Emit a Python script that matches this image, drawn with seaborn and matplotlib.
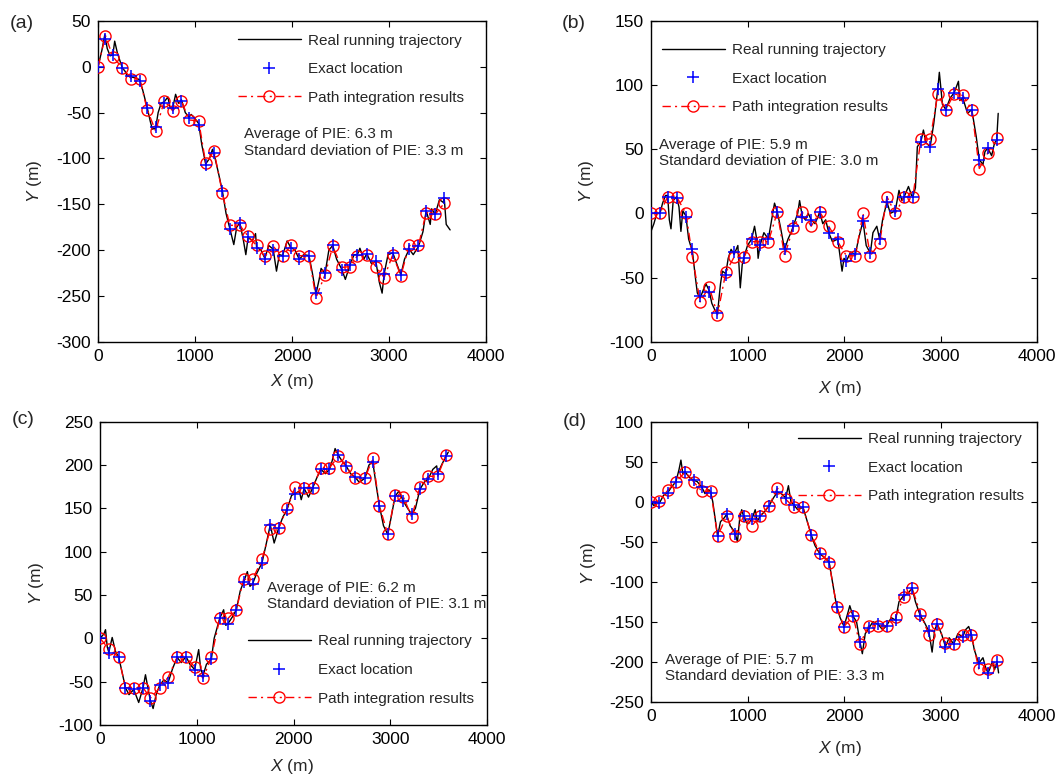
import matplotlib
matplotlib.use("Agg")
import matplotlib.pyplot as plt
import seaborn as sns
import numpy as np
import pandas as pd

sns.set_style("ticks")
plt.rcParams['font.family'] = ['Liberation Sans', 'DejaVu Sans']
plt.rcParams['mathtext.fontset'] = 'custom'
plt.rcParams['mathtext.it'] = 'Liberation Sans:italic'
plt.rcParams['mathtext.rm'] = 'Liberation Sans'
plt.rcParams['axes.unicode_minus'] = False

# ---------------- Panel (a) ----------------
x_a = [0, 77, 153, 250, 343, 429, 508, 594, 684, 770, 860, 938, 1038, 1110, 1196, 1283, 1358, 1462, 1548, 1635,
       1720, 1806, 1903, 1986, 2075, 2175, 2247, 2340, 2420, 2513, 2598, 2674, 2771, 2864, 2950, 3039, 3122, 3208,
       3304, 3383, 3476, 3569]
pir_a = [0, 34, 11, -1, -13, -13, -47, -70, -37, -48, -37, -58, -59, -105, -92, -138, -173, -173, -185, -195,
         -207, -196, -207, -195, -206, -207, -252, -227, -196, -219, -218, -206, -205, -218, -230, -205, -228, -195,
         -195, -159, -161, -149]
exact_a = [0, 30, 13, -1, -10, -15, -45, -66, -39, -45, -37, -56, -63, -107, -94, -136, -177, -171, -186, -198,
           -210, -200, -206, -198, -210, -206, -247, -225, -195, -222, -216, -205, -204, -212, -226, -203, -227, -199,
           -196, -157, -161, -143]
traj_a_x = [0, 40, 70, 95, 125, 153, 172, 200, 250, 280, 300, 343, 380, 429, 460, 508, 540, 560, 594, 620, 650, 684,
            720, 745, 770, 800, 830, 860, 900, 938, 960, 990, 1038, 1070, 1110, 1150, 1180, 1196, 1240, 1283, 1320,
            1358, 1400, 1430, 1462, 1500, 1524, 1548, 1590, 1624, 1635, 1680, 1720, 1760, 1806, 1840, 1870, 1903,
            1950, 1986, 2030, 2075, 2120, 2175, 2210, 2247, 2280, 2300, 2340, 2380, 2420, 2460, 2513, 2550, 2598,
            2640, 2674, 2700, 2740, 2771, 2820, 2864, 2900, 2929, 2950, 2990, 3039, 3080, 3122, 3160, 3208, 3250,
            3304, 3350, 3383, 3425, 3440, 3476, 3520, 3560, 3569, 3590, 3630]
traj_a_y = [0, 18, 35, 20, 12, 13, 28, 15, -1, -5, -10, -11, -12, -14, -25, -45, -60, -68, -67, -50, -40, -38,
            -33, -45, -45, -30, -40, -36, -50, -55, -52, -55, -62, -85, -106, -100, -90, -95, -115, -136, -160,
            -176, -194, -175, -170, -190, -205, -186, -190, -182, -197, -200, -209, -195, -199, -223, -205, -206,
            -190, -197, -200, -210, -205, -206, -225, -248, -232, -220, -226, -200, -195, -210, -221, -232, -216,
            -205, -205, -198, -210, -204, -215, -212, -235, -247, -226, -205, -203, -215, -227, -210, -199, -205,
            -196, -180, -157, -172, -155, -161, -145, -148, -143, -172, -178]

# ---------------- Panel (b) ----------------
x_b = [0, 93, 172, 265, 362, 430, 509, 602, 689, 775, 861, 964, 1043, 1129, 1216, 1309, 1384, 1474, 1567, 1660,
       1749, 1842, 1935, 2025, 2118, 2197, 2273, 2369, 2445, 2531, 2624, 2714, 2797, 2893, 2972, 3055, 3141, 3231,
       3324, 3402, 3489, 3582]
pir_b = [0, 0, 13, 13, 0, -34, -69, -57, -79, -46, -34, -34, -22, -22, -22, 1, -33, -11, 1, -10, 1, -10, -22,
         -33, -33, 0, -33, -23, 13, 0, 13, 13, 58, 58, 93, 81, 93, 92, 81, 35, 47, 59]
exact_b = [0, 0, 13, 12, -3, -28, -64, -61, -78, -48, -30, -35, -20, -25, -20, 1, -28, -10, -3, -5, 1, -15, -20,
           -37, -32, -6, -31, -20, 9, 2, 13, 13, 56, 52, 97, 81, 94, 90, 81, 42, 51, 57]
traj_b_x = [0, 30, 60, 93, 120, 150, 172, 190, 207, 230, 265, 290, 310, 330, 362, 390, 410, 430, 460, 480, 509,
            540, 570, 602, 630, 660, 689, 720, 740, 775, 800, 830, 861, 900, 925, 945, 964, 1000, 1043, 1073, 1100,
            1110, 1129, 1170, 1216, 1250, 1280, 1309, 1340, 1384, 1420, 1450, 1474, 1520, 1540, 1567, 1600, 1630,
            1660, 1700, 1749, 1780, 1810, 1842, 1880, 1935, 1980, 2000, 2025, 2070, 2118, 2150, 2197, 2230, 2273,
            2300, 2340, 2369, 2400, 2445, 2480, 2531, 2570, 2600, 2624, 2668, 2700, 2714, 2740, 2760, 2797, 2823,
            2850, 2893, 2930, 2972, 2988, 3020, 3055, 3100, 3141, 3186, 3200, 3231, 3280, 3324, 3370, 3402, 3440,
            3460, 3489, 3530, 3560, 3582, 3598]
traj_b_y = [-14, -8, 0, 0, 8, 14, 14, -5, -12, 10, 13, 5, -14, 2, -2, -20, -25, -30, -50, -62, -66, -60, -55,
            -60, -70, -75, -78, -55, -45, -47, -35, -28, -32, -25, -58, -40, -34, -25, -20, -10, -22, -35, -25, -15,
            -20, -5, 8, 1, -10, -28, -20, -15, -10, 0, 10, -2, -5, 0, -5, -8, 1, -8, -5, -15, -22, -20, -45, -35,
            -37, -30, -32, -20, -6, -25, -31, -15, -10, -20, -5, 9, 0, 2, 18, 10, 13, 21, 14, 13, 20, 52, 56, 65,
            55, 52, 70, 97, 110, 85, 81, 90, 94, 103, 88, 90, 78, 81, 60, 42, 38, 48, 51, 45, 55, 57, 78]

# ---------------- Panel (c) ----------------
x_c = [0, 91, 194, 263, 349, 445, 521, 617, 704, 797, 889, 978, 1065, 1151, 1237, 1323, 1409, 1484, 1577, 1674,
       1760, 1846, 1932, 2018, 2110, 2200, 2283, 2372, 2465, 2544, 2637, 2740, 2819, 2888, 2974, 3050, 3136, 3222,
       3307, 3393, 3490, 3576]
pir_c = [0, -12, -22, -57, -57, -57, -69, -57, -45, -22, -22, -33, -46, -22, 23, 23, 33, 68, 68, 91, 126, 127,
         150, 175, 174, 174, 197, 197, 210, 198, 185, 185, 208, 153, 120, 165, 163, 140, 175, 187, 187, 212]
exact_c = [0, -17, -22, -57, -59, -57, -72, -54, -51, -22, -21, -36, -43, -24, 23, 17, 33, 65, 63, 87, 131, 127,
           148, 167, 173, 174, 195, 195, 211, 199, 186, 185, 204, 153, 120, 164, 158, 143, 172, 184, 190, 210]
traj_c_x = [0, 40, 57, 75, 91, 126, 160, 194, 230, 263, 300, 349, 400, 445, 470, 500, 521, 549, 580, 617, 660,
            704, 750, 797, 840, 889, 930, 978, 1020, 1040, 1065, 1100, 1151, 1180, 1237, 1278, 1300, 1323, 1370,
            1409, 1450, 1484, 1523, 1550, 1577, 1620, 1674, 1720, 1760, 1800, 1846, 1890, 1932, 1980, 2018, 2060,
            2080, 2110, 2155, 2200, 2240, 2283, 2330, 2372, 2400, 2430, 2465, 2500, 2544, 2590, 2637, 2680, 2740,
            2780, 2819, 2850, 2888, 2930, 2974, 3010, 3050, 3090, 3136, 3180, 3222, 3260, 3307, 3350, 3393, 3440,
            3480, 3490, 3530, 3576, 3600]
traj_c_y = [0, 5, 10, -10, -16, 1, -15, -22, -40, -57, -65, -59, -74, -57, -42, -60, -72, -81, -65, -54, -48,
            -51, -35, -22, -28, -21, -30, -36, -13, -35, -43, -30, -24, 0, 23, 33, 15, 17, 25, 33, 55, 65, 77, 60,
            63, 75, 87, 110, 131, 110, 127, 140, 148, 165, 167, 170, 160, 173, 163, 174, 185, 195, 190, 195, 205,
            219, 211, 205, 199, 190, 186, 180, 185, 200, 204, 180, 153, 130, 120, 140, 164, 170, 158, 150, 143,
            150, 172, 180, 184, 195, 199, 190, 200, 210, 215]

# ---------------- Panel (d) ----------------
x_d = [0, 86, 172, 258, 355, 441, 527, 620, 690, 783, 872, 959, 1045, 1131, 1224, 1310, 1396, 1482, 1575, 1662,
       1749, 1845, 1924, 2000, 2093, 2165, 2258, 2351, 2441, 2534, 2620, 2706, 2792, 2879, 2966, 3051, 3137, 3230,
       3320, 3396, 3493, 3585]
pir_d = [0, 1, 14, 25, 37, 25, 13, 13, -43, -18, -43, -18, -30, -18, -5, 17, 3, -7, -7, -42, -64, -76, -131,
         -156, -143, -178, -155, -155, -155, -144, -119, -108, -140, -166, -153, -177, -178, -166, -166, -209,
         -209, -198]
exact_d = [0, -2, 11, 25, 37, 27, 18, 11, -43, -16, -40, -18, -22, -18, -5, 12, 5, -4, -7, -42, -65, -75, -131,
           -156, -143, -175, -158, -153, -155, -148, -117, -108, -143, -162, -153, -181, -178, -169, -166, -202,
           -214, -200]
traj_d_x = [0, 30, 60, 86, 130, 172, 210, 258, 290, 310, 330, 355, 400, 441, 480, 527, 560, 600, 620, 640, 690,
            720, 760, 783, 820, 850, 872, 896, 920, 940, 959, 1000, 1045, 1080, 1100, 1131, 1180, 1224, 1270, 1310,
            1350, 1396, 1424, 1450, 1482, 1520, 1575, 1620, 1662, 1700, 1749, 1800, 1845, 1880, 1924, 1960, 2000,
            2040, 2060, 2093, 2130, 2165, 2190, 2220, 2258, 2300, 2351, 2400, 2441, 2490, 2534, 2570, 2620, 2660,
            2706, 2740, 2792, 2830, 2879, 2913, 2940, 2966, 3010, 3051, 3090, 3137, 3180, 3230, 3260, 3292, 3320,
            3350, 3396, 3440, 3470, 3493, 3540, 3560, 3585, 3602]
traj_d_y = [0, -5, 0, -2, 8, 11, 18, 25, 40, 52, 35, 37, 30, 27, 25, 18, 10, 15, 11, 0, -43, -25, -20, -16, -30,
            -35, -40, -50, -20, -10, -18, -28, -22, -10, -25, -18, -12, -5, 5, 12, 10, 5, 20, 0, -4, -10, -7, -25,
            -42, -55, -65, -70, -75, -100, -131, -145, -156, -139, -130, -143, -150, -175, -190, -165, -158, -150,
            -153, -160, -155, -145, -148, -125, -117, -115, -108, -125, -143, -150, -162, -188, -160, -153, -165,
            -181, -170, -178, -165, -169, -160, -156, -166, -185, -202, -195, -208, -214, -200, -210, -200, -214]

legend_labels = ['Real running trajectory', 'Exact location', 'Path integration results']

W, H = 1059, 774
fig = plt.figure(figsize=(W / 100, H / 100), dpi=100)


def add_ax(l, t, r, b):
    return fig.add_axes([l / W, 1 - b / H, (r - l) / W, (b - t) / H])


panels = [
    dict(rect=(98, 21, 486, 341.7), x=x_a, pir=pir_a, ex=exact_a, tx=traj_a_x, ty=traj_a_y,
         ylim=(-300, 50), leg=(238, 33.5), txt=(244, 142.5), stats=('6.3', '3.3'),
         lab='(a)', labpos=(10, 24), xlab=(292, 381.7), ylab=(35, 181.7)),
    dict(rect=(651, 21, 1037, 341.7), x=x_b, pir=pir_b, ex=exact_b, tx=traj_b_x, ty=traj_b_y,
         ylim=(-100, 150), leg=(662, 43), txt=(659, 153), stats=('5.9', '3.0'),
         lab='(b)', labpos=(562, 24), xlab=(840, 389), ylab=(587, 181.7)),
    dict(rect=(100, 421.7, 487, 725), x=x_c, pir=pir_c, ex=exact_c, tx=traj_c_x, ty=traj_c_y,
         ylim=(-100, 250), leg=(248, 634.5), txt=(267, 596), stats=('6.2', '3.1'),
         lab='(c)', labpos=(12, 419), xlab=(292, 766), ylab=(37, 583)),
    dict(rect=(651, 421.7, 1037, 701.7), x=x_d, pir=pir_d, ex=exact_d, tx=traj_d_x, ty=traj_d_y,
         ylim=(-250, 100), leg=(798, 432), txt=(665, 668), stats=('5.7', '3.3'),
         lab='(d)', labpos=(563, 421), xlab=(840, 748), ylab=(588, 563)),
]

for p in panels:
    l, t, r, b = p['rect']
    ax = add_ax(l, t, r, b)
    sns.lineplot(x=p['tx'], y=p['ty'], sort=False, estimator=None, ax=ax, color='black',
                 linewidth=1.0, label=legend_labels[0], zorder=2)
    sns.lineplot(x=p['x'], y=p['ex'], sort=False, estimator=None, ax=ax, color='blue',
                 linestyle='none', marker='+', markersize=8.5, markeredgewidth=1.1,
                 markeredgecolor='blue', label=legend_labels[1], zorder=4)
    sns.lineplot(x=p['x'], y=p['pir'], sort=False, estimator=None, ax=ax, color='red',
                 linewidth=1.0, dashes=False, marker='o', markersize=8, markerfacecolor='none',
                 markeredgecolor='red', markeredgewidth=1.0, label=legend_labels[2], zorder=3)
    for ln in ax.get_lines():
        if ln.get_label() == legend_labels[2]:
            ln.set_linestyle((0, (6, 3, 1.5, 3)))
        if ln.get_label() == legend_labels[1]:
            ln.set_linestyle('none')
            ln.set_markeredgecolor('blue')
    ax.set_xlim(0, 4000)
    ax.set_ylim(*p['ylim'])
    ax.set_xticks(np.arange(0, 4001, 1000))
    ax.set_yticks(np.arange(p['ylim'][0], p['ylim'][1] + 1, 50))
    ax.tick_params(direction='in', length=4, width=0.8, labelsize=12.5, pad=5,
                   top=True, right=True, colors='black')
    for s in ax.spines.values():
        s.set_visible(True)
        s.set_linewidth(1.0)
        s.set_color('black')
    ax.set_xlabel(r'$\mathit{X}$ (m)', fontsize=12.5)
    ax.set_ylabel(r'$\mathit{Y}$ (m)', fontsize=12.5)
    wpx, hpx = r - l, b - t
    ax.xaxis.set_label_coords((p['xlab'][0] - l) / wpx, (b - p['xlab'][1]) / hpx)
    ax.yaxis.set_label_coords((p['ylab'][0] - l) / wpx, (b - p['ylab'][1]) / hpx)
    ax.xaxis.label.set_va('center')
    ax.yaxis.label.set_va('center')
    ax.grid(False)
    ax.set_facecolor('white')
    # legend
    handles, labels = ax.get_legend_handles_labels()
    ax.legend(handles, labels, loc='upper left',
              bbox_to_anchor=(p['leg'][0] / W, 1 - p['leg'][1] / H),
              bbox_transform=fig.transFigure, frameon=False, fontsize=11,
              borderpad=0, borderaxespad=0, handlelength=4.1, handletextpad=0.45,
              labelspacing=0.95, numpoints=1)
    fig.text(p['txt'][0] / W, 1 - p['txt'][1] / H,
             'Average of PIE: %s m\nStandard deviation of PIE: %s m' % p['stats'],
             fontsize=11, ha='left', va='center', linespacing=1.2)
    fig.text(p['labpos'][0] / W, 1 - p['labpos'][1] / H, p['lab'], fontsize=14,
             ha='left', va='center')

fig.savefig('out.png', dpi=100, facecolor='white')
